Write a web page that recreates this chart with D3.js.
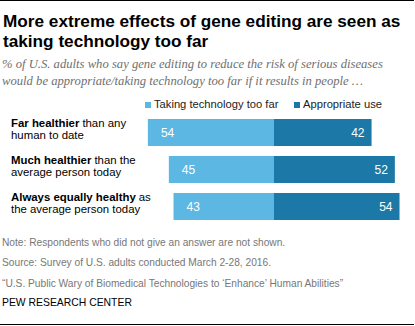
<!DOCTYPE html>
<html>
<head>
<meta charset="utf-8">
<script src="https://cdn.jsdelivr.net/npm/d3@7"></script>
<style>
  body { margin: 0; background: #fff; }
  svg { display: block; }
</style>
</head>
<body>
<div id="grafica"></div>
<script>
// datos del grafico
var categoriasNegrita = ["Far healthier", "Much healthier", "Always equally healthy"];
var categoriasResto = ["than any", "than the", "as"];
var categoriasLinea2 = ["human to date", "average person today", "the average person today"];
var demasiado = [54, 45, 43];   // Taking technology too far
var apropiado = [42, 52, 54];   // Appropriate use
var series = ["Taking technology too far", "Appropriate use"];
var notas = [
	"Note: Respondents who did not give an answer are not shown.",
	"Source: Survey of U.S. adults conducted March 2-28, 2016.",
	"\u201cU.S. Public Wary of Biomedical Technologies to \u2018Enhance\u2019 Human Abilities\u201d"
];

var w = 415;
var h = 326;
var colores = ["#5cb7e3", "#1c79a7"];
var centro = 273.7;
var sans = "'Liberation Sans', Arial, sans-serif";

var svg = d3.select('#grafica')
	.append('svg')
	.attr("width", w)
	.attr("height", h);

// lineas de arriba y abajo
svg.append("line").attr("x1", 0).attr("x2", 414).attr("y1", 0.5).attr("y2", 0.5)
	.attr("stroke", "#000").attr("stroke-width", 1.2);
svg.append("line").attr("x1", 0).attr("x2", 414).attr("y1", 324.5).attr("y2", 324.5)
	.attr("stroke", "#000").attr("stroke-width", 1);

// titulo
var titulo = ["More extreme effects of gene editing are seen as", "taking technology too far"];
svg.selectAll(".titulo")
	.data(titulo)
	.enter()
	.append("text")
	.attr("class", "titulo")
	.attr("x", 3)
	.attr("y", function (d, i) { return 26.7 + i * 20; })
	.style("font-family", sans)
	.style("font-weight", "bold")
	.style("font-size", "17.2px")
	.style("fill", "#000")
	.text(function (d) { return d; });

// subtitulo
var subtitulo = ["% of U.S. adults who say gene editing to reduce the risk of serious diseases",
	"would be appropriate/taking technology too far if it results in people \u2026"];
svg.selectAll(".subtitulo")
	.data(subtitulo)
	.enter()
	.append("text")
	.attr("class", "subtitulo")
	.attr("x", 2)
	.attr("y", function (d, i) { return 68.3 + i * 16.7; })
	.style("font-family", "Georgia, 'Liberation Serif', serif")
	.style("font-style", "italic")
	.style("font-size", "12.65px")
	.style("fill", "#6f6f6f")
	.text(function (d) { return d; });

// escalas
var x = d3.scaleLinear().domain([0, 100]).range([0, 233]);
var y = d3.scaleBand().domain(categoriasNegrita).range([119, 220]).paddingInner(0.27).paddingOuter(0);

// leyenda
var leyendaX = [145, 294];
var leyenda = svg.selectAll(".leyenda")
	.data(series)
	.enter()
	.append("g")
	.attr("class", "leyenda")
	.attr("transform", function (d, i) { return "translate(" + leyendaX[i] + ",102)"; });
leyenda.append("rect")
	.attr("width", 6).attr("height", 6)
	.style("fill", function (d, i) { return colores[i]; });
leyenda.append("text")
	.attr("x", 9).attr("y", 6.3)
	.style("font-family", sans)
	.style("font-size", "11.2px")
	.style("fill", "#222")
	.text(function (d) { return d; });

// barras
svg.selectAll(".barraIzq")
	.data(demasiado)
	.enter()
	.append("rect")
	.attr("class", "barraIzq")
	.attr("x", function (d) { return centro - x(d); })
	.attr("y", function (d, i) { return y(categoriasNegrita[i]); })
	.attr("width", function (d) { return x(d); })
	.attr("height", y.bandwidth())
	.style("fill", colores[0]);

svg.selectAll(".barraDer")
	.data(apropiado)
	.enter()
	.append("rect")
	.attr("class", "barraDer")
	.attr("x", centro)
	.attr("y", function (d, i) { return y(categoriasNegrita[i]); })
	.attr("width", function (d) { return x(d); })
	.attr("height", y.bandwidth())
	.style("fill", colores[1]);

// valores
svg.selectAll(".valorIzq")
	.data(demasiado)
	.enter()
	.append("text")
	.attr("class", "valorIzq")
	.attr("x", function (d) { return centro - x(d) + 13; })
	.attr("y", function (d, i) { return y(categoriasNegrita[i]) + y.bandwidth() / 2 + 4.3; })
	.style("font-family", sans)
	.style("font-size", "12px")
	.style("fill", "#fff")
	.text(function (d) { return d; });

svg.selectAll(".valorDer")
	.data(apropiado)
	.enter()
	.append("text")
	.attr("class", "valorDer")
	.attr("x", function (d) { return centro + x(d) - 7; })
	.attr("y", function (d, i) { return y(categoriasNegrita[i]) + y.bandwidth() / 2 + 4.3; })
	.attr("text-anchor", "end")
	.style("font-family", sans)
	.style("font-size", "12px")
	.style("fill", "#fff")
	.text(function (d) { return d; });

// etiquetas de categoria: parte en negrita y resto como textos separados
var etiquetas = svg.selectAll(".etiqueta")
	.data(categoriasNegrita)
	.enter()
	.append("g")
	.attr("class", "etiqueta")
	.style("font-family", sans)
	.style("font-size", "11.4px")
	.style("fill", "#000");
etiquetas.append("text")
	.attr("class", "negrita")
	.attr("x", 11)
	.attr("y", function (d) { return y(d) + 8.3; })
	.style("font-weight", "bold")
	.text(function (d) { return d; });
etiquetas.append("text")
	.attr("x", function () {
		var anterior = this.parentNode.querySelector(".negrita");
		return 11 + anterior.getComputedTextLength() + 3;
	})
	.attr("y", function (d) { return y(d) + 8.3; })
	.text(function (d, i) { return categoriasResto[i]; });
etiquetas.append("text")
	.attr("x", 11)
	.attr("y", function (d) { return y(d) + 19.8; })
	.text(function (d, i) { return categoriasLinea2[i]; });

// notas
svg.selectAll(".nota")
	.data(notas)
	.enter()
	.append("text")
	.attr("class", "nota")
	.attr("x", 2)
	.attr("y", function (d, i) { return 245.7 + i * 20.5; })
	.style("font-family", sans)
	.style("font-size", "10.2px")
	.style("fill", "#777")
	.text(function (d) { return d; });

svg.append("text")
	.attr("x", 2)
	.attr("y", 306)
	.style("font-family", sans)
	.style("font-size", "10.4px")
	.style("fill", "#000")
	.text("PEW RESEARCH CENTER");
</script>
</body>
</html>
